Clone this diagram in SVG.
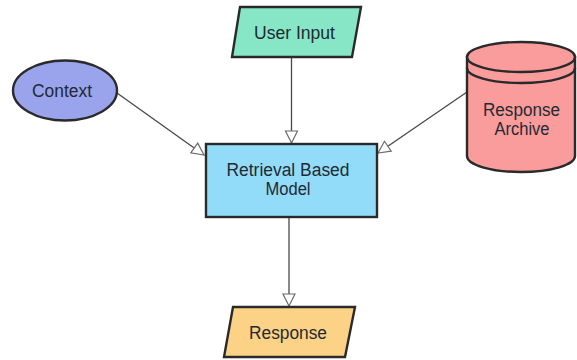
<svg xmlns="http://www.w3.org/2000/svg" width="577" height="360" viewBox="0 0 577 360">
<style>
.shape{stroke:#2a2a2a;stroke-width:2.4;stroke-linejoin:miter}
.lbl{font-family:"Liberation Sans",Arial,sans-serif;font-size:18px;fill:#1f2a33;text-anchor:middle}
.conn{stroke:#484848;stroke-width:1.3;fill:none;marker-end:url(#hollow)}
</style>
<defs>
<marker id="hollow" markerUnits="userSpaceOnUse" markerWidth="16" markerHeight="16" refX="13" refY="7" orient="auto">
<path d="M1,1 L13,7 L1,13 Z" fill="#ffffff" stroke="#6a6a6a" stroke-width="1.2"/>
</marker>
</defs>
<rect width="577" height="360" fill="#ffffff"/>
<g id="connectors">
<line class="conn" x1="291.5" y1="57" x2="291.5" y2="143"/>
<line class="conn" x1="117" y1="93" x2="204" y2="155"/>
<line class="conn" x1="467" y1="92" x2="378" y2="153"/>
<line class="conn" x1="289" y1="217" x2="289" y2="306"/>
</g>
<g id="user-input">
<polygon class="shape" points="240,7 361,7 352,57 232,57" fill="#86e6c5"/>
<text class="lbl" x="294.5" y="39" textLength="81" lengthAdjust="spacingAndGlyphs">User Input</text>
</g>
<g id="context">
<ellipse class="shape" cx="65" cy="90.5" rx="52" ry="30" fill="#9aa4ec"/>
<text class="lbl" x="62" y="97" textLength="60" lengthAdjust="spacingAndGlyphs">Context</text>
</g>
<g id="response-archive">
<path class="shape" d="M467,57 L467,156 A54,16 0 0 0 575,156 L575,57 Z" fill="#f99c9b"/>
<ellipse class="shape" cx="521" cy="57" rx="54" ry="15" fill="#f99c9b"/>
<path class="shape" d="M467,68 A54,15 0 0 0 575,68" fill="none"/>
<text class="lbl" x="521.5" y="116" textLength="77" lengthAdjust="spacingAndGlyphs">Response</text>
<text class="lbl" x="522" y="135" textLength="55" lengthAdjust="spacingAndGlyphs">Archive</text>
</g>
<g id="retrieval-model">
<rect class="shape" x="206" y="144" width="171" height="73" fill="#92dcf9"/>
<text class="lbl" x="288" y="176" textLength="123" lengthAdjust="spacingAndGlyphs">Retrieval Based</text>
<text class="lbl" x="288" y="195" textLength="45" lengthAdjust="spacingAndGlyphs">Model</text>
</g>
<g id="response">
<polygon class="shape" points="233,307 355,307 345,357 224,357" fill="#fcd386"/>
<text class="lbl" x="288" y="339" textLength="78" lengthAdjust="spacingAndGlyphs">Response</text>
</g>
</svg>
